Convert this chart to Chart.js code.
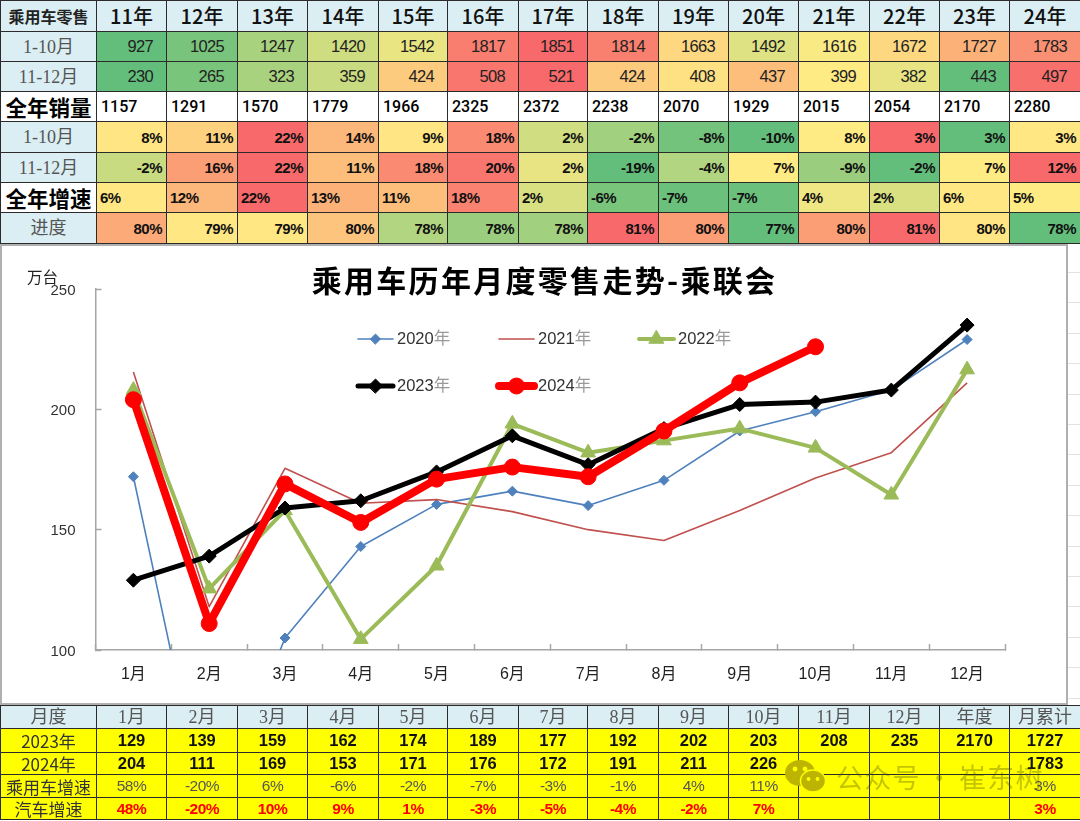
<!DOCTYPE html>
<html>
<head>
<meta charset="utf-8">
<script src="https://cdn.jsdelivr.net/npm/chart.js@4/dist/chart.umd.js"></script>
<style>
html, body { margin: 0; padding: 0; background: #fff; width: 1080px; height: 821px; overflow: hidden; }
body { position: relative; font-family: "Liberation Sans", "Noto Sans CJK SC", sans-serif; }
table { position: absolute; left: 0; border-collapse: collapse; table-layout: fixed; width: 1080px; }
td { border: 1px solid #2b2b2b; padding: 0; overflow: hidden; white-space: nowrap; text-align: center; color: #222; }
#topTable { top: 0; }
#bottomTable { top: 705px; }
.head { background: #daeef3; }
.year { font: 500 20px/1 "Noto Sans CJK SC", sans-serif; color: #111; }
.corner { font: 700 16px/1 "Noto Sans CJK SC", sans-serif; color: #222; }
.serif { font: 18px/1 "Liberation Serif", "Noto Sans CJK SC", serif; color: #555; }
.big { font: 700 21.5px/1 "Noto Sans CJK SC", sans-serif; color: #000; background: #fff; }
.num { text-align: right; padding-right: 13px; font-size: 16.5px; line-height: 1; letter-spacing: -0.7px; }
.pct { text-align: right; padding-right: 4px; font-weight: 700; font-size: 15px; line-height: 1; letter-spacing: -0.5px; color: #111; }
.total { text-align: left; padding-left: 4px; font: 500 16px/1 Roboto, sans-serif; color: #000; background: #fff; }
.ypct { text-align: left; padding-left: 3px; font-weight: 700; font-size: 15px; line-height: 1; letter-spacing: -0.5px; color: #111; }
.yellow td { background: #ff0; }
.label { font: 17px/1 "Noto Sans CJK SC", sans-serif; color: #333; }
.strong { font-weight: 700; font-size: 16.5px; line-height: 1; color: #111; }
.gray { font-size: 15.5px; line-height: 1; letter-spacing: -0.5px; color: #555; }
.red { font-weight: 700; font-size: 15.5px; line-height: 1; letter-spacing: -0.5px; color: #f00; }
#sheetLines { position: absolute; left: 1068px; top: 245px; width: 12px; height: 460px;
  background: repeating-linear-gradient(to bottom, #fff 0, #fff 27px, #e2e2e2 27px, #e2e2e2 28px, #fff 28px, #fff 30.4px); }
#chartBox { position: absolute; left: 0; top: 245px; width: 1068px; height: 460px; background: #fff; }
#frame { position: absolute; left: 0; top: 244px; width: 1064px; height: 457px; border: 2px solid #b0b0b0; pointer-events: none; }
#unit { position: absolute; left: 27px; top: 267px; font: 15.5px/18px "Noto Sans CJK SC", sans-serif; color: #222; }
#mark { position: absolute; left: 785px; top: 757px; width: 270px; height: 42px; color: rgba(70,70,0,0.32); font: 27px/40px "Noto Sans CJK SC", sans-serif; white-space: nowrap; }
#mark svg { position: absolute; left: 0; top: 3px; }
#mark span { position: absolute; left: 51px; top: 0; letter-spacing: 1.3px; word-spacing: -2.5px; }
</style>
</head>
<body>
<table id="topTable"></table>
<div id="sheetLines"></div>
<div id="chartBox"><canvas id="retailChart" width="1068" height="460"></canvas></div>
<div id="frame"></div>
<div id="unit">万台</div>
<table id="bottomTable"></table>
<div id="mark">
  <svg width="41" height="33" viewBox="0 0 41 33">
    <ellipse cx="15" cy="13" rx="15" ry="13" fill="#bcb400"/>
    <ellipse cx="28" cy="21" rx="12.5" ry="11" fill="#bcb400" stroke="#ff0" stroke-width="1.5"/>
    <circle cx="10" cy="9" r="2.4" fill="#ff0"/><circle cx="20" cy="9" r="2.4" fill="#ff0"/>
    <circle cx="23.5" cy="19" r="1.9" fill="#ff0"/><circle cx="32.5" cy="19" r="1.9" fill="#ff0"/>
  </svg>
  <span>公众号 · 崔东树</span>
</div>

<script>
// top table
var yearLabels = ['11年','12年','13年','14年','15年','16年','17年','18年','19年','20年','21年','22年','23年','24年'];
var sales1to10 = [927,1025,1247,1420,1542,1817,1851,1814,1663,1492,1616,1672,1727,1783];
var sales11to12 = [230,265,323,359,424,508,521,424,408,437,399,382,443,497];
var salesYear = [1157,1291,1570,1779,1966,2325,2372,2238,2070,1929,2015,2054,2170,2280];
var growth1to10 = ['8%','11%','22%','14%','9%','18%','2%','-2%','-8%','-10%','8%','3%','3%','3%'];
var growth11to12 = ['-2%','16%','22%','11%','18%','20%','2%','-19%','-4%','7%','-9%','-2%','7%','12%'];
var growthYear = ['6%','12%','22%','13%','11%','18%','2%','-6%','-7%','-7%','4%','2%','6%','5%'];
var progress = ['80%','79%','79%','80%','78%','78%','78%','81%','80%','77%','80%','81%','80%','78%'];

// cell shade: -10 green, 0 yellow, 10 red
var shadeSales1to10 = [-10,-8.6,-5.5,-3.1,-1.4,8.4,10,8.3,1.5,-2.1,-0.3,1.5,4.5,7];
var shadeSales11to12 = [-10,-8.5,-5.5,-3.5,2.5,9,10,2.5,0.8,3.5,0,-1.5,-10,9.5];
var shadeGrowth1to10 = [0.5,2,10,4,0.5,7.5,-3,-6,-9,-10,0,10,-10,0.3];
var shadeGrowth11to12 = [-3.5,6,10,3.5,7.5,9,-1.5,-10,-5,0,-6.5,-10,0,10];
var shadeGrowthYear = [0.2,4,10,4.5,3.5,8,-2.5,-8.5,-9.5,-9.5,-1,-2.5,0.2,0];
var shadeProgress = [5,0.3,0.3,3,-5,-6.5,-6,10,6,-10,6,10,0.5,-10];

// bottom table
var monthLabels = ['1月','2月','3月','4月','5月','6月','7月','8月','9月','10月','11月','12月'];
var extraLabels = ['年度','月累计'];
var retail2023 = [129,139,159,162,174,189,177,192,202,203,208,235];
var retail2024 = [204,111,169,153,171,176,172,191,211,226];
var total2023 = [2170,1727];
var total2024 = ['',1783];
var pvGrowth = ['58%','-20%','6%','-6%','-2%','-7%','-3%','-1%','4%','11%','','','','3%'];
var autoGrowth = ['48%','-20%','10%','9%','1%','-3%','-5%','-4%','-2%','7%','','','','3%'];

// chart lines
var series2020 = [172,25,105,143,160.5,166,160,170.5,191,199,208,229];
var series2021 = [215.5,118,175.5,161,162.5,157.5,150,145.5,158,171.5,182,211];
var series2022 = [208,125.5,158,104.5,135,194,182,187,192,184,164.5,216.5];

var colWidths = [96,70,71,70,71,69,71,69,71,70,70,71,70,70,71];
var topHeights = [31,30,30,30,31,30,30,31];
var bottomHeights = [23,24,22,23,22];

function shadeColor(t) {
  var yellow = [255,235,132], to = t < 0 ? [99,190,123] : [248,105,107], k = Math.abs(t) / 10;
  var c = yellow.map(function(v, i) { return Math.round(v + (to[i] - v) * k); });
  return 'rgb(' + c.join(',') + ')';
}

function addRow(table, height, cells) {
  var tr = table.insertRow();
  tr.style.height = height + 'px';
  cells.forEach(function(c) {
    var td = tr.insertCell();
    td.textContent = c.text;
    td.className = c.cls || '';
    if (c.bg) td.style.background = c.bg;
  });
  return tr;
}

function setCols(table) {
  var cg = document.createElement('colgroup');
  colWidths.forEach(function(w) {
    var col = document.createElement('col');
    col.style.width = w + 'px';
    cg.appendChild(col);
  });
  table.appendChild(cg);
}

function heatRow(label, labelCls, values, shades, cls) {
  var cells = [{ text: label, cls: labelCls }];
  values.forEach(function(v, i) { cells.push({ text: v, cls: cls, bg: shadeColor(shades[i]) }); });
  return cells;
}

var topTable = document.getElementById('topTable');
setCols(topTable);
addRow(topTable, topHeights[0], [{ text: '乘用车零售', cls: 'head corner' }].concat(yearLabels.map(function(y) { return { text: y, cls: 'head year' }; })));
addRow(topTable, topHeights[1], heatRow('1-10月', 'head serif', sales1to10, shadeSales1to10, 'num'));
addRow(topTable, topHeights[2], heatRow('11-12月', 'head serif', sales11to12, shadeSales11to12, 'num'));
addRow(topTable, topHeights[3], [{ text: '全年销量', cls: 'big' }].concat(salesYear.map(function(v) { return { text: v, cls: 'total' }; })));
addRow(topTable, topHeights[4], heatRow('1-10月', 'head serif', growth1to10, shadeGrowth1to10, 'pct'));
addRow(topTable, topHeights[5], heatRow('11-12月', 'head serif', growth11to12, shadeGrowth11to12, 'pct'));
addRow(topTable, topHeights[6], heatRow('全年增速', 'big', growthYear, shadeGrowthYear, 'ypct'));
addRow(topTable, topHeights[7], heatRow('进度', 'head serif', progress, shadeProgress, 'pct'));

var bottomTable = document.getElementById('bottomTable');
setCols(bottomTable);
function plainRow(label, values, cls) {
  var tr = addRow(bottomTable, bottomHeights[bottomTable.rows.length], [{ text: label, cls: 'label' }].concat(values.map(function(v) { return { text: v, cls: cls }; })));
  tr.className = 'yellow';
}
addRow(bottomTable, bottomHeights[0], [{ text: '月度', cls: 'head serif' }].concat(monthLabels.concat(extraLabels).map(function(m) { return { text: m, cls: 'head serif' }; })));
plainRow('2023年', retail2023.concat(total2023), 'strong');
plainRow('2024年', retail2024.concat(['', ''], total2024), 'strong');
plainRow('乘用车增速', pvGrowth, 'gray');
plainRow('汽车增速', autoGrowth, 'red');

// legend sits inside the plot in the original, so it is placed by hand
var legendSlots = [[358,94],[499,94],[639,94],[358,141],[499,141]];
var sheetLegend = {
  id: 'sheetLegend',
  afterDraw: function(chart) {
    var ctx = chart.ctx;
    chart.data.datasets.forEach(function(ds, i) {
      var x = legendSlots[i][0], y = legendSlots[i][1];
      ctx.save();
      ctx.strokeStyle = ds.borderColor;
      ctx.lineWidth = ds.borderWidth;
      ctx.lineCap = 'round';
      ctx.beginPath();
      ctx.moveTo(x, y);
      ctx.lineTo(x + 35, y);
      ctx.stroke();
      ctx.fillStyle = ds.pointBackgroundColor;
      ctx.strokeStyle = ds.pointBackgroundColor;
      ctx.lineWidth = 1;
      if (ds.pointRadius > 0) Chart.helpers.drawPoint(ctx, { pointStyle: ds.pointStyle, radius: ds.pointRadius, borderWidth: 1 }, x + 17.5, y);
      ctx.font = '16.5px "Liberation Sans", "Noto Sans CJK SC", sans-serif';
      ctx.textBaseline = 'middle';
      ctx.fillStyle = '#333';
      var year = ds.label.slice(0, 4);
      ctx.fillText(year, x + 39, y);
      ctx.fillStyle = '#999';
      ctx.fillText(ds.label.slice(4), x + 39 + ctx.measureText(year).width, y);
      ctx.restore();
    });
  }
};

// the title in the original has loose spacing and centres on the whole frame
var spacedTitle = {
  id: 'spacedTitle',
  afterLayout: function(chart) {
    var box = chart.titleBlock;
    if (box.spaced) return;
    var draw = box.draw;
    box.spaced = true;
    box.draw = function() {
      var ctx = chart.ctx;
      ctx.save();
      ctx.letterSpacing = '2.3px';
      ctx.translate(42, 0);
      draw.call(box);
      ctx.restore();
    };
  }
};

function lineSet(label, data, color, width, style, radius, order) {
  return {
    label: label, data: data, borderColor: color, backgroundColor: color, borderWidth: width,
    pointStyle: style, pointRadius: radius, pointBackgroundColor: color, pointBorderColor: color,
    pointBorderWidth: 1, borderJoinStyle: 'round', tension: 0, fill: false, order: order
  };
}

new Chart(document.getElementById('retailChart').getContext('2d'), {
  type: 'line',
  data: {
    labels: monthLabels,
    datasets: [
      lineSet('2020年', series2020, '#4f81bd', 1.6, 'rectRot', 5, 5),
      lineSet('2021年', series2021, '#c0504d', 1.6, false, 0, 4),
      lineSet('2022年', series2022, '#9bbb59', 4, 'triangle', 8.5, 3),
      lineSet('2023年', retail2023, '#000000', 5, 'rectRot', 7, 2),
      lineSet('2024年', retail2024, '#ff0000', 8, 'circle', 8, 1)
    ]
  },
  options: {
    responsive: false,
    animation: false,
    layout: { autoPadding: false, padding: { left: 0, right: 63, top: 0, bottom: 0 } },
    plugins: {
      legend: { display: false },
      tooltip: { enabled: false },
      title: {
        display: true,
        text: '乘用车历年月度零售走势-乘联会',
        color: '#000',
        font: { family: '"Noto Sans CJK SC", sans-serif', size: 30, weight: '700', lineHeight: 1.2 },
        padding: { top: 18, bottom: -10 }
      }
    },
    scales: {
      x: {
        type: 'category',
        offset: true,
        afterFit: function(s) { s.height = 55; },
        border: { color: '#a6a6a6', width: 1.5 },
        grid: { offset: true, drawOnChartArea: false, tickLength: -6, tickColor: '#a6a6a6', tickWidth: 1.5 },
        ticks: { color: '#222', padding: 21, maxRotation: 0, font: { family: '"Liberation Sans", "Noto Sans CJK SC", sans-serif', size: 16 } }
      },
      y: {
        min: 100,
        max: 250,
        afterFit: function(s) { s.width = 95.5; },
        border: { color: '#a6a6a6', width: 1.5 },
        grid: { drawOnChartArea: false, tickLength: -6, tickColor: '#a6a6a6', tickWidth: 1.5 },
        ticks: { stepSize: 50, color: '#333', padding: 26, labelOffset: 1.5, font: { family: '"Liberation Sans", sans-serif', size: 15 } }
      }
    }
  },
  plugins: [spacedTitle, sheetLegend]
});
</script>
</body>
</html>
